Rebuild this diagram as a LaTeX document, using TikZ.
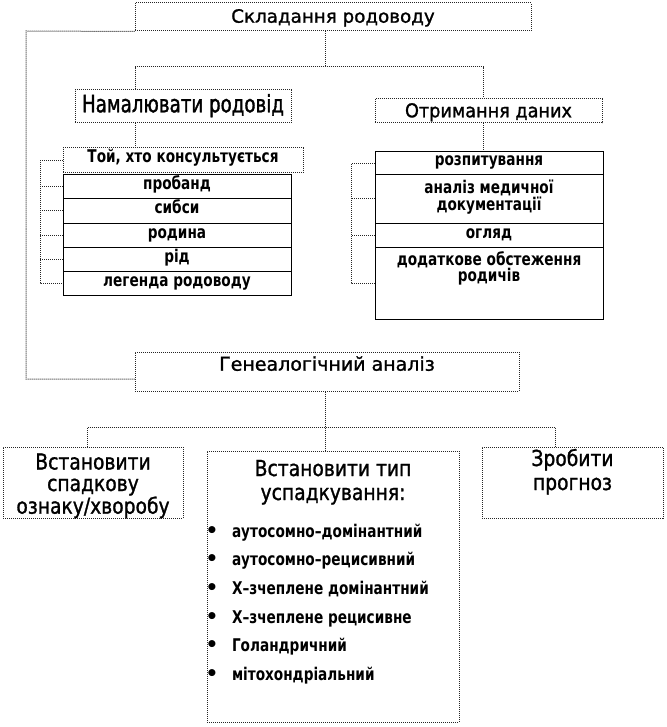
\documentclass[tikz,border=0pt]{standalone}
\usepackage{fontspec}
\usepackage{graphicx}
\setmainfont{DejaVu Sans}
\newfontfamily\ftit[FakeBold=1.2]{DejaVu Sans}
\newfontfamily\fmid[FakeStretch=0.93,FakeBold=1.2]{DejaVu Sans}
\newfontfamily\fbx[FakeStretch=0.85,FakeBold=1.2]{DejaVu Sans}
\newfontfamily\fnam[FakeStretch=0.76,FakeBold=1.4]{DejaVu Sans}
\newfontfamily\fnar[FakeStretch=0.78]{DejaVu Sans}
\newcommand\boxtxt[4]{\parbox[c][#1][t]{#2}{\centering\rule{0pt}{#3}#4\par}}
\newcommand\itf{\fnar\bfseries\fontsize{17.5pt}{16.7pt}\selectfont}
\newcommand\bul{\makebox[25pt][l]{\hspace*{-1.5pt}{\rmfamily\bfseries\fontsize{20pt}{20pt}\selectfont •}}}
\tikzset{
  tb/.style={draw=black!85, densely dotted, line width=1pt, fill=white, inner sep=0pt},
  lb/.style={draw, solid, line width=1pt, fill=white, inner sep=0pt},
  conn/.style={draw=black!85, densely dotted, line width=1pt}
}
\begin{document}
\begin{tikzpicture}[x=1pt,y=-1pt]
\fill[white] (0,0) rectangle (666,727);
\useasboundingbox (0,0) rectangle (666,727);

% top level
\node[tb] (top) at (333,17) {\boxtxt{28pt}{396pt}{19.7pt}{\ftit\fontsize{18.3pt}{20pt}\selectfont Складання родоводу}};
\node[tb] (nam) at (183,106.5) {\boxtxt{33pt}{216pt}{22.3pt}{\fnam\fontsize{24pt}{26pt}\selectfont Намалювати родовід}};
\node[tb] (otr) at (488.5,111) {\boxtxt{24pt}{227pt}{18.3pt}{\fmid\fontsize{19pt}{21pt}\selectfont Отримання даних}};

% left list
\node[tb] (toi) at (183,160.5) {\boxtxt{25pt}{240pt}{14.7pt}{\itf Той, хто консультується}};
\node[lb] (r1) at (177,187) {\boxtxt{24pt}{228pt}{15pt}{\itf пробанд}};
\node[lb] (r2) at (177,211) {\boxtxt{24pt}{228pt}{15pt}{\itf сибси}};
\node[lb] (r3) at (177,235) {\boxtxt{24pt}{228pt}{15pt}{\itf родина}};
\node[lb] (r4) at (177,259) {\boxtxt{24pt}{228pt}{15pt}{\itf рід}};
\node[lb] (r5) at (177,283) {\boxtxt{24pt}{228pt}{15pt}{\itf легенда родоводу}};

% right list
\node[lb] (q1) at (489,163.5) {\boxtxt{23pt}{228pt}{14pt}{\itf розпитування}};
\node[lb] (q2) at (489,199) {\boxtxt{48pt}{228pt}{18.3pt}{\itf аналіз медичної\\документації}};
\node[lb] (q3) at (489,235) {\boxtxt{24pt}{228pt}{15.3pt}{\itf огляд}};
\node[lb] (q4) at (489,283) {\boxtxt{72pt}{228pt}{18pt}{\itf додаткове обстеження\\родичів}};

% genealogical analysis
\node[tb] (gen) at (327,371.5) {\boxtxt{39pt}{384pt}{18.7pt}{\ftit\fontsize{19pt}{21pt}\selectfont Генеалогічний аналіз}};

\node[tb] (b1) at (93,482.5) {\boxtxt{71pt}{180pt}{22.5pt}{\fbx\fontsize{22pt}{21.5pt}\selectfont Встановити\\спадкову\\ознаку/хворобу}};
\node[tb] (b3) at (572.5,482.5) {\boxtxt{71pt}{181pt}{19pt}{\fbx\fontsize{22pt}{24pt}\selectfont Зробити\\прогноз}};
\node[tb] (b2) at (333,586.5) {\parbox[c][271pt][t]{252pt}{%
  {\fbx\fontsize{22pt}{24pt}\selectfont\centering\rule{0pt}{25pt}Встановити тип\\успадкування:\par}%
  \vspace{8.3pt}%
  {\fnar\bfseries\fontsize{17.5pt}{28.7pt}\selectfont\raggedright
  \bul аутосомно–домінантний\\
  \bul аутосомно–рецисивний\\
  \bul Х–зчеплене домінантний\\
  \bul Х–зчеплене рецисивне\\
  \bul Голандричний\\
  \bul мітохондріальний\par}}};

% connectors: top
\coordinate (tj) at (325,67);
\coordinate (tl) at (135,67);
\coordinate (tr) at (483,67);
\draw[conn] (top.south -| tj) -- (tj);
\draw[conn] (tl |- nam.north) -- (tl) -- (tr) -- (tr |- otr.north);
\draw[conn] (nam.south -| tl) -- (toi.north -| tl);
\draw[conn] (otr.south -| tr) -- (q1.north -| tr);

% loop from top to genealogical analysis
\coordinate (lp) at (26,31);
\coordinate (lq) at (26,379);
\draw[conn] (top.south west) -- (lp) -- (lq) -- (lq -| gen.west);

% left bracket
\coordinate (lb) at (40,0);
\draw[conn] (toi.west) -- (toi.west -| lb) -- (r5.west -| lb) -- (r5.west);
\foreach \n in {r1,r2,r3,r4} \draw[conn] (\n.west) -- (\n.west -| lb);

% right bracket
\coordinate (rb) at (351,0);
\draw[conn] (q1.west) -- (q1.west -| rb) -- (q4.west -| rb) -- (q4.west);
\foreach \n in {q2,q3} \draw[conn] (\n.west) -- (\n.west -| rb);

% bottom connectors
\coordinate (gj) at (325,427);
\coordinate (gl) at (87,427);
\coordinate (gr) at (555,427);
\draw[conn] (gen.south -| gj) -- (gj) -- (gj |- b2.north);
\draw[conn] (gl |- b1.north) -- (gl) -- (gr) -- (gr |- b3.north);
\end{tikzpicture}
\end{document}
